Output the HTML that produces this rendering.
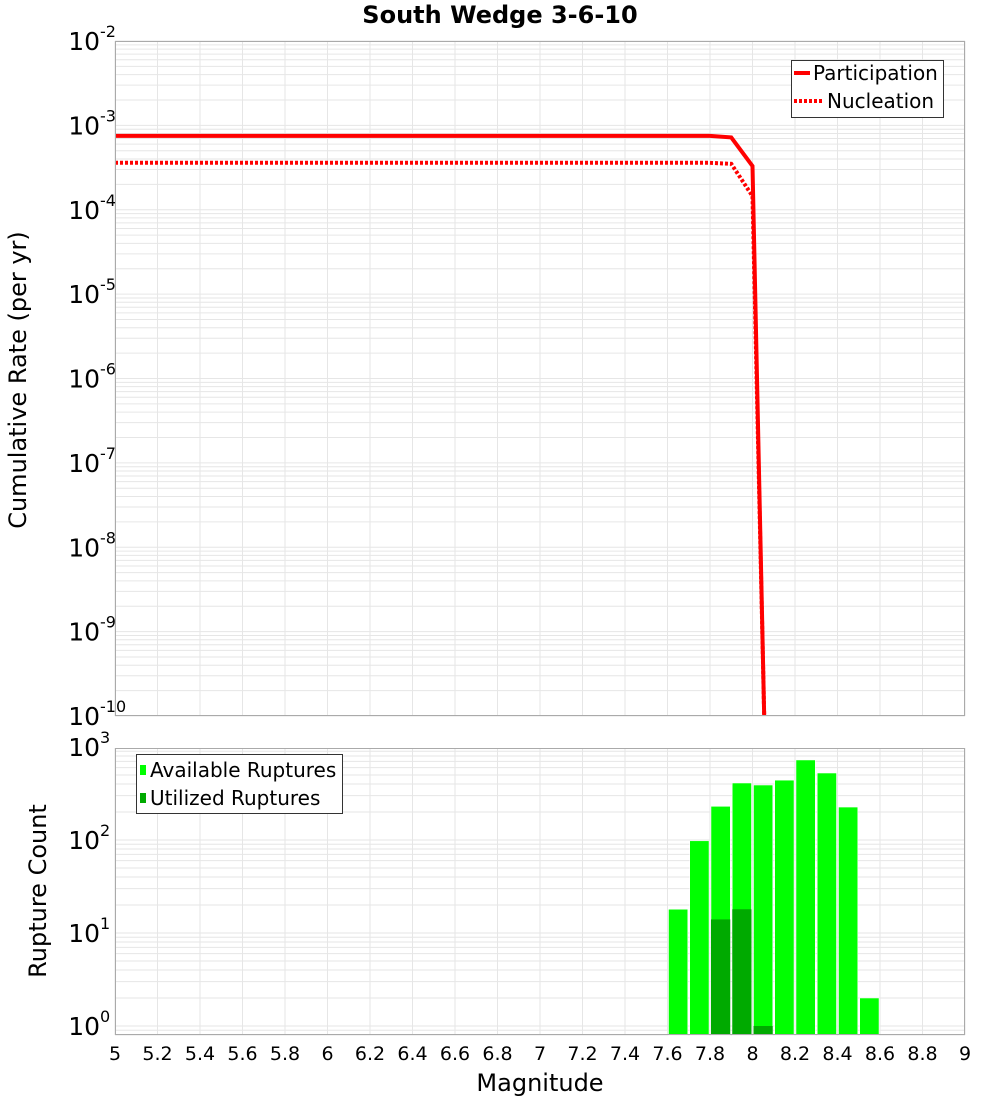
<!DOCTYPE html>
<html><head><meta charset="utf-8"><style>
html,body{margin:0;padding:0;background:#fff;}
svg{display:block;font-family:"DejaVu Sans","Liberation Sans",sans-serif;}
</style></head><body>
<svg id="chart" width="1000" height="1100" viewBox="0 0 1000 1100" xmlns="http://www.w3.org/2000/svg">
<text x="500" y="23" text-anchor="middle" font-size="24" font-weight="bold">South Wedge 3-6-10</text>
<g id="gtop"></g><g id="gbot"></g>
<text transform="translate(26,380) rotate(-90)" text-anchor="middle" font-size="24">Cumulative Rate (per yr)</text>
<text transform="translate(46,891) rotate(-90)" text-anchor="middle" font-size="24">Rupture Count</text>
<text x="540" y="1091" text-anchor="middle" font-size="24">Magnitude</text>
<g>
<rect x="791.5" y="60.5" width="152" height="57" fill="#fff" stroke="#333"/>
<line x1="794" y1="73" x2="810" y2="73" stroke="#f00" stroke-width="4"/>
<text x="813" y="80" font-size="20">Participation</text>
<line x1="794" y1="101" x2="822" y2="101" stroke="#f00" stroke-width="4" stroke-dasharray="3,2"/>
<text x="827" y="108" font-size="20">Nucleation</text>
</g>
<g>
<rect x="136.5" y="754.5" width="206" height="59" fill="#fff" stroke="#333"/>
<rect x="140" y="765" width="6" height="10" fill="#00ff00"/>
<text x="150" y="777" font-size="20">Available Ruptures</text>
<rect x="140" y="793" width="6" height="10" fill="#00aa00"/>
<text x="150" y="805" font-size="20">Utilized Ruptures</text>
</g>
</svg>
<script>
const partMags=[5.0,7.8,7.9,8.0,8.055];
const partRates=[7.5e-4,7.5e-4,7.2e-4,3.3e-4,1e-10];
const nuclMags=[5.0,7.8,7.9,8.0,8.055];
const nuclRates=[3.6e-4,3.6e-4,3.5e-4,1.45e-4,1e-10];
const binStarts=[7.6,7.7,7.8,7.9,8.0,8.1,8.2,8.3,8.4,8.5];
const availCounts=[18,98,230,410,390,440,725,525,226,2];
const utilBins=[7.8,7.9,8.0];
const utilCounts=[14,18,1];
const xTicks=[5,5.2,5.4,5.6,5.8,6,6.2,6.4,6.6,6.8,7,7.2,7.4,7.6,7.8,8,8.2,8.4,8.6,8.8,9];
const topDecades=[-2,-3,-4,-5,-6,-7,-8,-9,-10];
const botDecades=[3,2,1,0];
const NS="http://www.w3.org/2000/svg";
const L=115,R=965;
const X=m=>L+(m-5)*(R-L)/4;
const TT=41,TB=716;
const YT=v=>TT+(-2-Math.log10(v))*(TB-TT)/8;
const BT=748,BB=1035;
const YB=v=>1026-Math.log10(v)*93;
function mk(tag,attrs,parent){const e=document.createElementNS(NS,tag);for(const k in attrs)e.setAttribute(k,attrs[k]);parent.appendChild(e);return e;}
const gTop=document.getElementById('gtop'),gBot=document.getElementById('gbot');
function grid(g,t,b,yf,decs){
  const lo=Math.min(...decs),hi=Math.max(...decs);
  for(let d=lo-1;d<=hi;d++)for(let k=1;k<10;k++){const y=yf(k*Math.pow(10,d));if(y<t-0.5||y>b+0.5)continue;
    const ln=mk('line',{x1:L,x2:R,y1:y,y2:y,stroke:'#e6e6e6','stroke-width':1},g);
    
    }
  xTicks.forEach(m=>{const ln=mk('line',{x1:X(m),x2:X(m),y1:t,y2:b,stroke:'#e6e6e6','stroke-width':1},g);
    
    });
}
function ylabels(g,yf,decs){decs.forEach(d=>{const y=yf(Math.pow(10,d));
  const t=mk('text',{x:100,y:y+9,'text-anchor':'end','font-size':25},g);t.textContent='10';
  
  
  const s=mk('text',{x:100,y:y-4,'font-size':16},g);s.textContent=String(d);
  
  });}
grid(gTop,TT,TB,YT,topDecades);
grid(gBot,BT,BB,YB,[3,2,1,0,-1]);
ylabels(gTop,YT,topDecades);ylabels(gBot,YB,botDecades);
const cp=mk('clipPath',{id:'cpt'},gTop);mk('rect',{x:L,y:TT,width:R-L,height:TB-TT},cp);
const cg=mk('g',{'clip-path':'url(#cpt)'},gTop);
const np=mk('polyline',{points:nuclMags.map((m,i)=>X(m)+','+YT(nuclRates[i])).join(' '),fill:'none',stroke:'#f00','stroke-width':4,'stroke-dasharray':'3,2'},cg);


const pp=mk('polyline',{points:partMags.map((m,i)=>X(m)+','+YT(partRates[i])).join(' '),fill:'none',stroke:'#f00','stroke-width':4},cg);


const bw=(X(0.1)-X(0));
binStarts.forEach((m,i)=>{const y=YB(availCounts[i]);
  const r=mk('rect',{x:X(m)+1,y:y,width:bw-2,height:BB-y,fill:'#00ff00',stroke:'#fff','stroke-width':0.5},gBot);
  
  });
utilBins.forEach((m,i)=>{const y=YB(utilCounts[i]);
  const r=mk('rect',{x:X(m)+1,y:y,width:bw-2,height:BB-y,fill:'#00aa00'},gBot);
  
  });
[[TT,TB],[BT,BB]].forEach(([t,b])=>{const f=mk('rect',{x:L+0.5,y:t+0.5,width:R-L-1,height:b-t-1,fill:'none',stroke:'#aaa'},gBot);
  
  });
xTicks.forEach(m=>{const t=mk('text',{x:X(m),y:1060,'text-anchor':'middle','font-size':19},gBot);t.textContent=String(m);
  
  });
</script>
</body></html>
